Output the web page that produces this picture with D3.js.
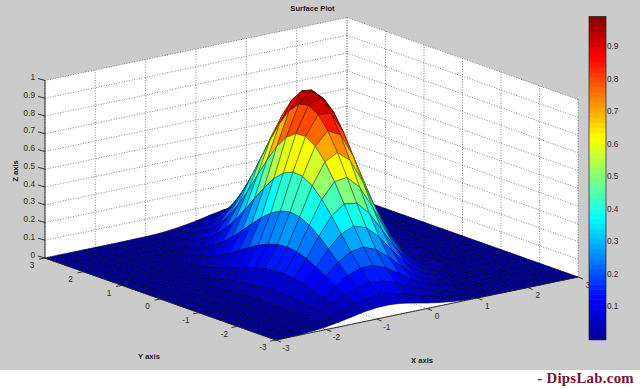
<!DOCTYPE html>
<html><head><meta charset="utf-8"><style>html,body{margin:0;padding:0;background:#fff}svg{display:block}</style>
<script src="https://cdn.jsdelivr.net/npm/d3@7"></script></head><body><div id="c"></div>
<script>
const gridX=[-3,-2.75,-2.5,-2.25,-2,-1.75,-1.5,-1.25,-1,-.75,-.5,-.25,0,.25,.5,.75,1,1.25,1.5,1.75,2,2.25,2.5,2.75,3];
const gridY=[-3,-2.75,-2.5,-2.25,-2,-1.75,-1.5,-1.25,-1,-.75,-.5,-.25,0,.25,.5,.75,1,1.25,1.5,1.75,2,2.25,2.5,2.75,3];
const row00=[0,.001,.003,.008,.015,.027,.041,.055,.064,.066,.059,.046,.031,.019,.010,.004,.002,.001,0,0,0,0,0,0,0];
const row01=[0,.001,.004,.009,.020,.036,.057,.079,.096,.102,.095,.077,.054,.034,.018,.009,.004,.001,0,0,0,0,0,0,0];
const row02=[0,.002,.004,.011,.024,.046,.075,.109,.137,.151,.146,.123,.090,.058,.033,.016,.007,.003,.001,0,0,0,0,0,0];
const row03=[0,.002,.005,.013,.028,.055,.095,.142,.187,.214,.214,.187,.142,.095,.055,.028,.013,.005,.002,0,0,0,0,0,0];
const row04=[0,.002,.005,.013,.031,.064,.114,.178,.242,.287,.298,.270,.214,.148,.090,.047,.022,.009,.003,.001,0,0,0,0,0];
const row05=[0,.002,.005,.014,.033,.071,.131,.211,.298,.368,.397,.374,.308,.221,.139,.076,.037,.015,.006,.002,.001,0,0,0,0];
const row06=[0,.001,.005,.013,.034,.074,.143,.240,.351,.450,.503,.492,.421,.314,.205,.117,.058,.025,.010,.003,.001,0,0,0,0];
const row07=[0,.001,.004,.013,.033,.075,.149,.259,.394,.524,.609,.618,.548,.425,.287,.170,.088,.040,.016,.005,.002,0,0,0,0];
const row08=[0,.001,.004,.011,.030,.071,.147,.266,.421,.581,.701,.739,.680,.547,.385,.236,.127,.059,.024,.009,.003,.001,0,0,0];
const row09=[0,.001,.003,.009,.026,.065,.139,.261,.429,.615,.770,.842,.805,.673,.491,.313,.174,.085,.036,.013,.004,.001,0,0,0];
const row10=[0,.001,.002,.008,.022,.056,.125,.244,.416,.620,.806,.915,.908,.788,.597,.395,.228,.115,.051,.020,.007,.002,.001,0,0];
const row11=[0,0,.002,.006,.018,.046,.108,.218,.385,.595,.803,.947,.976,.879,.691,.475,.285,.150,.069,.027,.010,.003,.001,0,0];
const row12=[0,0,.001,.004,.013,.037,.088,.185,.340,.545,.763,.935,1,.935,.763,.545,.340,.185,.088,.037,.013,.004,.001,0,0];
const row13=[0,0,.001,.003,.010,.027,.069,.150,.285,.475,.691,.879,.976,.947,.803,.595,.385,.218,.108,.046,.018,.006,.002,0,0];
const row14=[0,0,.001,.002,.007,.020,.051,.115,.228,.395,.597,.788,.908,.915,.806,.620,.416,.244,.125,.056,.022,.008,.002,.001,0];
const row15=[0,0,0,.001,.004,.013,.036,.085,.174,.313,.491,.673,.805,.842,.770,.615,.429,.261,.139,.065,.026,.009,.003,.001,0];
const row16=[0,0,0,.001,.003,.009,.024,.059,.127,.236,.385,.547,.680,.739,.701,.581,.421,.266,.147,.071,.030,.011,.004,.001,0];
const row17=[0,0,0,0,.002,.005,.016,.040,.088,.170,.287,.425,.548,.618,.609,.524,.394,.259,.149,.075,.033,.013,.004,.001,0];
const row18=[0,0,0,0,.001,.003,.010,.025,.058,.117,.205,.314,.421,.492,.503,.450,.351,.240,.143,.074,.034,.013,.005,.001,0];
const row19=[0,0,0,0,.001,.002,.006,.015,.037,.076,.139,.221,.308,.374,.397,.368,.298,.211,.131,.071,.033,.014,.005,.002,0];
const row20=[0,0,0,0,0,.001,.003,.009,.022,.047,.090,.148,.214,.270,.298,.287,.242,.178,.114,.064,.031,.013,.005,.002,0];
const row21=[0,0,0,0,0,0,.002,.005,.013,.028,.055,.095,.142,.187,.214,.214,.187,.142,.095,.055,.028,.013,.005,.002,0];
const row22=[0,0,0,0,0,0,.001,.003,.007,.016,.033,.058,.090,.123,.146,.151,.137,.109,.075,.046,.024,.011,.004,.002,0];
const row23=[0,0,0,0,0,0,0,.001,.004,.009,.018,.034,.054,.077,.095,.102,.096,.079,.057,.036,.020,.009,.004,.001,0];
const row24=[0,0,0,0,0,0,0,.001,.002,.004,.010,.019,.031,.046,.059,.066,.064,.055,.041,.027,.015,.008,.003,.001,0];
const zRows=[row00,row01,row02,row03,row04,row05,row06,row07,row08,row09,row10,row11,row12,row13,row14,row15,row16,row17,row18,row19,row20,row21,row22,row23,row24];
const xTicks=[-3,-2,-1,0,1,2,3], yTicks=[-3,-2,-1,0,1,2,3], zTicks=[0,.1,.2,.3,.4,.5,.6,.7,.8,.9,1];
const barTicks=[.1,.2,.3,.4,.5,.6,.7,.8,.9];
const jetAt=[0,.125,.375,.625,.875,1], jetCol=["#00008f","#0000ff","#00ffff","#ffff00","#ff0000","#800000"];

const W=640,H=389, sans='"Liberation Sans",Arial,sans-serif';
const svg=d3.select("#c").append("svg").attr("width",W).attr("height",H);
svg.append("rect").attr("width",W).attr("height",370).attr("fill","#cbcbcb");
const xPx=d3.scaleLinear([-3,3],[-151,151]), yPx=d3.scaleLinear([-3,3],[115.5,-115.5]);
const xPy=d3.scaleLinear([-3,3],[31.5,-31.5]), yPy=d3.scaleLinear([-3,3],[41,-41]);
const zPy=d3.scaleLinear([0,1],[0,-177.5]);
const P=(x,y,z)=>[311.5+xPx(x)+yPx(y),267.5+xPy(x)+yPy(y)+zPy(z)];
const jet=d3.scaleLinear(jetAt,jetCol).interpolate(d3.interpolateRgb);
const cmax=.995, band=d3.scaleQuantize([0,cmax],d3.range(64).map(i=>jet((i+.5)/64)));
const line=d3.line(), poly=p=>line(p)+"Z";
const walls=[[[-3,3,0],[3,3,0],[3,3,1],[-3,3,1]],[[3,3,0],[3,-3,0],[3,-3,1],[3,3,1]],[[-3,-3,0],[3,-3,0],[3,3,0],[-3,3,0]]];
svg.append("g").selectAll("path").data(walls).join("path").attr("d",w=>poly(w.map(p=>P(...p)))).attr("fill","#fff");
const grid=[];
zTicks.forEach(z=>{grid.push([[-3,3,z],[3,3,z]],[[3,3,z],[3,-3,z]]);});
xTicks.forEach(x=>{grid.push([[x,3,0],[x,3,1]],[[x,-3,0],[x,3,0]]);});
yTicks.forEach(y=>{grid.push([[3,y,0],[3,y,1]],[[-3,y,0],[3,y,0]]);});
svg.append("g").selectAll("path").data(grid).join("path").attr("d",s=>line(s.map(p=>P(...p)))).attr("fill","none").attr("stroke","#666").attr("stroke-width",.8).attr("stroke-dasharray","1 1.6");
const cells=[];
for(let i=23;i>=0;i--)for(let j=23;j>=0;j--)cells.push({i,j});
svg.append("g").selectAll("path").data(cells).join("path")
 .attr("d",c=>poly([[c.i,c.j],[c.i,c.j+1],[c.i+1,c.j+1],[c.i+1,c.j]].map(([a,b])=>P(gridX[b],gridY[a],zRows[a][b]))))
 .attr("fill",c=>band(zRows[c.i][c.j])).attr("stroke",c=>d3.color(band(zRows[c.i][c.j])).darker(2.6)).attr("stroke-width",.65).attr("stroke-linejoin","round");
const axes=svg.append("g").attr("stroke","#222").attr("stroke-width",.9).attr("fill","none");
const seg=(a,b)=>axes.append("path").attr("d",line([a,b]));
seg(P(-3,3,0),P(-3,3,1));seg(P(-3,3,0),P(-3,-3,0));seg(P(-3,-3,0),P(3,-3,0));
const lab=(x,y,t,a)=>svg.append("text").attr("x",x).attr("y",y).attr("font-family",sans).attr("fill","#2a2a2a").attr("font-size",8.2).attr("text-anchor",a||"middle").attr("dominant-baseline","middle").text(t);
zTicks.forEach(z=>{const p=P(-3,3,z);seg(p,[p[0]-7,p[1]-2]);lab(35,p[1]-2.5,d3.format("~g")(z),"end");});
yTicks.forEach(y=>{const p=P(-3,y,0);seg(p,[p[0]-6,p[1]+1.2]);lab(p[0]-13,p[1]+8,y);});
xTicks.forEach(x=>{const p=P(x,-3,0);seg(p,[p[0]+5,p[1]+2]);lab(p[0]+10,p[1]+8.5,x);});
const bold=(x,y,t,r)=>svg.append("text").attr("transform",`translate(${x},${y})${r?" rotate(-90)":""}`).attr("font-family",sans).attr("fill","#222").attr("font-size",7.6).attr("font-weight","bold").attr("text-anchor","middle").attr("dominant-baseline","middle").text(t);
bold(312.5,9,"Surface Plot");bold(149,357,"Y axis");bold(422,361,"X axis");bold(16,171,"Z axis",true);
const barY=d3.scaleLinear([0,1],[339.7,14.8]);
svg.append("g").selectAll("rect").data(d3.range(64)).join("rect").attr("x",589).attr("width",17)
 .attr("y",i=>barY((i+1)/64*cmax)).attr("height",i=>barY(i/64*cmax)-barY((i+1)/64*cmax)+.5).attr("fill",i=>jet((i+.5)/64));
svg.append("rect").attr("x",589).attr("y",barY(cmax)).attr("width",17).attr("height",barY(0)-barY(cmax)).attr("fill","none").attr("stroke","#222").attr("stroke-width",.7);
barTicks.forEach(v=>{const y=barY(v);seg([589,y],[592,y]);seg([603,y],[606,y]);lab(607,y,v,"start");});
svg.append("text").attr("x",634).attr("y",383).attr("text-anchor","end").attr("font-family",'"Liberation Serif",serif').attr("font-weight","bold").attr("font-size",14.8).attr("letter-spacing",.3).attr("fill","#7a1030").text("- DipsLab.com");
</script></body></html>
